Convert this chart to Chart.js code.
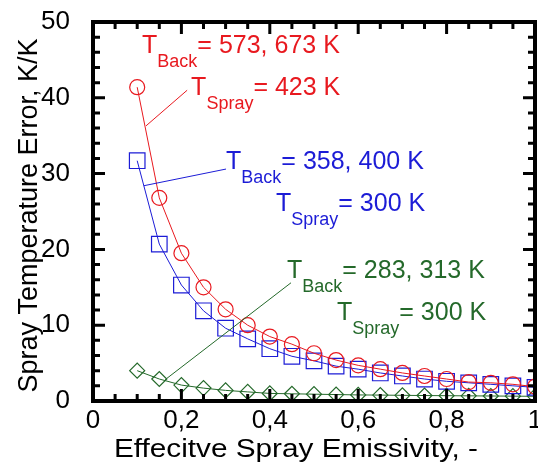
<!DOCTYPE html>
<html>
<head>
<meta charset="utf-8">
<script src="https://cdn.jsdelivr.net/npm/chart.js@4.4.1/dist/chart.umd.min.js"></script>
<style>
  html, body { margin: 0; padding: 0; background: #fff; }
</style>
</head>
<body>
<canvas id="errChart" width="538" height="465"></canvas>
<script>
// effective spray emissivity (x values)
const emissivity = [0.1, 0.15, 0.2, 0.25, 0.3, 0.35, 0.4, 0.45, 0.5, 0.55,
                    0.6, 0.65, 0.7, 0.75, 0.8, 0.85, 0.9, 0.95, 1.0];
// T_Back = 573, 673 K / T_Spray = 423 K
const errHot = [41.4, 26.8, 19.5, 15.0, 12.1, 10.0, 8.5, 7.5, 6.3, 5.4,
                4.7, 4.2, 3.7, 3.3, 2.9, 2.5, 2.4, 2.2, 1.9];
// T_Back = 358, 400 K / T_Spray = 300 K
const errMid = [31.7, 20.7, 15.3, 11.9, 9.6, 8.2, 6.9, 5.9, 5.3, 4.6,
                4.2, 3.7, 3.3, 2.9, 2.6, 2.4, 2.2, 2.0, 1.8];
// T_Back = 283, 313 K / T_Spray = 300 K
const errCold = [4.0, 2.9, 2.1, 1.7, 1.4, 1.2, 1.0, 0.95, 0.9, 0.85,
                 0.8, 0.78, 0.75, 0.72, 0.7, 0.68, 0.66, 0.64, 0.62];

const xTickLabels = ['0', '0,2', '0,4', '0,6', '0,8', '1'];
const yTickLabels = ['0', '10', '20', '30', '40', '50'];

const RED = '#e8191f';
const BLUE = '#1c1cd6';
const GREEN = '#24692a';
const FONT = '"Liberation Sans", Arial, sans-serif';

// annotation texts, anchored in data units (left of T, main baseline)
const notes = [
  { color: RED, x: 0.111, y: 45.9, parts: [['T', 0], ['Back', 1], ['= 573, 673 K', 0]] },
  { color: RED, x: 0.222, y: 40.4, parts: [['T', 0], ['Spray', 1], ['= 423 K', 0]] },
  { color: BLUE, x: 0.301, y: 30.6, parts: [['T', 0], ['Back', 1], ['= 358, 400 K', 0]] },
  { color: BLUE, x: 0.414, y: 25.1, parts: [['T', 0], ['Spray', 1], ['= 300 K', 0]] },
  { color: GREEN, x: 0.439, y: 16.2, parts: [['T', 0], ['Back', 1], ['= 283, 313 K', 0]] },
  { color: GREEN, x: 0.552, y: 10.7, parts: [['T', 0], ['Spray', 1], ['= 300 K', 0]] }
];
// leader lines from labels to the curves
const leaders = [
  { color: RED, from: [0.213, 41.0], to: [0.120, 36.3] },
  { color: BLUE, from: [0.301, 30.6], to: [0.115, 28.4] },
  { color: GREEN, from: [0.448, 15.6], to: [0.163, 2.8] }
];

function toPoints(ys) {
  return emissivity.map((x, i) => ({ x: x, y: ys[i] }));
}

function series(ys, color, style, radius) {
  return {
    data: toPoints(ys),
    showLine: true,
    borderColor: color,
    borderWidth: 1,
    pointStyle: style,
    pointRadius: radius,
    pointBorderColor: color,
    pointBackgroundColor: 'rgba(0,0,0,0)',
    pointBorderWidth: 1.2,
    tension: 0
  };
}

// stretched text, fitted to a target width
function fitText(ctx, text, cx, cy, width) {
  const w = ctx.measureText(text).width;
  ctx.save();
  ctx.translate(cx, cy);
  ctx.scale(width / w, 1);
  ctx.fillText(text, 0, 0);
  ctx.restore();
}

const decorPlugin = {
  id: 'decor',
  afterDatasetsDraw(chart) {
    const ctx = chart.ctx;
    const xs = chart.scales.x, ys = chart.scales.y;
    const a = chart.chartArea;
    ctx.save();

    // leader lines
    leaders.forEach(l => {
      ctx.strokeStyle = l.color;
      ctx.lineWidth = 1;
      ctx.beginPath();
      ctx.moveTo(xs.getPixelForValue(l.from[0]), ys.getPixelForValue(l.from[1]));
      ctx.lineTo(xs.getPixelForValue(l.to[0]), ys.getPixelForValue(l.to[1]));
      ctx.stroke();
    });

    // labels with subscripts
    ctx.textBaseline = 'alphabetic';
    ctx.textAlign = 'left';
    notes.forEach(n => {
      let px = xs.getPixelForValue(n.x);
      const py = ys.getPixelForValue(n.y);
      ctx.fillStyle = n.color;
      n.parts.forEach(p => {
        ctx.font = p[1] ? '18px ' + FONT : '25px ' + FONT;
        ctx.fillText(p[0], px, p[1] ? py + 14 : py);
        px += ctx.measureText(p[0]).width;
      });
    });

    // frame
    ctx.strokeStyle = '#000';
    ctx.lineWidth = 4;
    ctx.strokeRect(a.left, a.top, a.right - a.left, a.bottom - a.top);

    // inward ticks on all four sides
    ctx.lineWidth = 3;
    ctx.beginPath();
    for (let k = 0; k <= 20; k++) {
      const v = k * 0.05;
      const len = k % 4 === 0 ? 12 : 7;
      const x = xs.getPixelForValue(v);
      ctx.moveTo(x, a.bottom); ctx.lineTo(x, a.bottom - len);
      ctx.moveTo(x, a.top); ctx.lineTo(x, a.top + len);
    }
    for (let k = 0; k <= 25; k++) {
      const v = k * 2;
      const len = k % 5 === 0 ? 12 : 7;
      const y = ys.getPixelForValue(v);
      ctx.moveTo(a.left, y); ctx.lineTo(a.left + len, y);
      ctx.moveTo(a.right, y); ctx.lineTo(a.right - len, y);
    }
    ctx.stroke();

    // axis titles
    ctx.fillStyle = '#000';
    ctx.textAlign = 'center';
    ctx.font = '25px ' + FONT;
    fitText(ctx, 'Effecitve Spray Emissivity, -', 296, 457, 364);
    ctx.font = '27px ' + FONT;
    ctx.save();
    ctx.translate(37, (a.top + a.bottom) / 2 + 4);
    ctx.rotate(-Math.PI / 2);
    ctx.fillText('Spray Temperature Error, K/K', 0, 0);
    ctx.restore();

    ctx.restore();
  }
};

new Chart(document.getElementById('errChart'), {
  type: 'scatter',
  data: {
    datasets: [
      series(errHot, RED, 'circle', 7.5),
      series(errMid, BLUE, 'rect', 11),
      series(errCold, GREEN, 'rectRot', 7.5)
    ]
  },
  options: {
    responsive: false,
    animation: false,
    layout: { autoPadding: false, padding: { top: 22, right: 3, left: 0, bottom: 0 } },
    plugins: { legend: { display: false }, tooltip: { enabled: false } },
    scales: {
      x: {
        type: 'linear', min: 0, max: 1,
        grid: { display: false }, border: { display: false },
        ticks: {
          stepSize: 0.2, padding: -4, color: '#000', maxRotation: 0, autoSkip: false,
          font: { family: FONT, size: 26 },
          callback: (v, i) => xTickLabels[i]
        },
        afterFit: s => { s.height = 64; s.paddingLeft = 0; s.paddingRight = 0; }
      },
      y: {
        type: 'linear', min: 0, max: 50,
        grid: { display: false }, border: { display: false },
        ticks: {
          stepSize: 10, padding: 15, color: '#000',
          font: { family: FONT, size: 26 },
          callback: (v, i) => yTickLabels[i]
        },
        afterFit: s => { s.width = 93; s.paddingTop = 0; s.paddingBottom = 0; }
      }
    }
  },
  plugins: [decorPlugin]
});
</script>
</body>
</html>
